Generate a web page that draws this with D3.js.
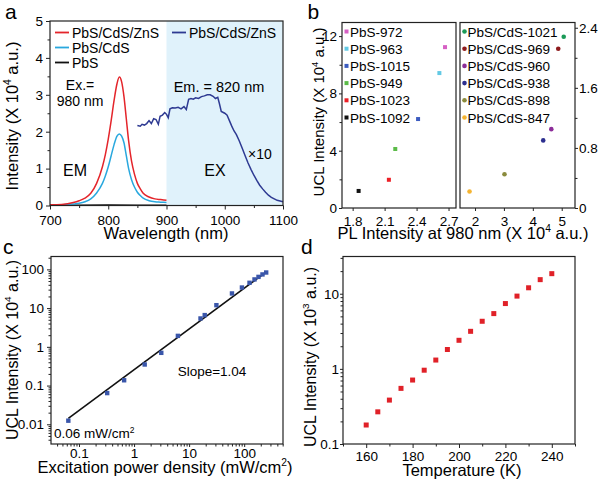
<!DOCTYPE html>
<html><head><meta charset="utf-8">
<script src="https://cdn.jsdelivr.net/npm/d3@7"></script>
<style>
body{margin:0;background:#fff}
svg text{font-family:"Liberation Sans",Arial,Helvetica,sans-serif;fill:#000}
</style></head><body>
<script>
// ---- panel a : emission / excitation spectra
var emWave = [700, 720, 740, 750, 760, 770, 780, 790, 795, 800, 805, 810, 815, 819, 823, 827, 831, 835, 840, 845, 850, 855, 860, 870, 880, 890, 900];
var emRed  = [0.02, 0.03, 0.08, 0.13, 0.2, 0.33, 0.6, 1.05, 1.38, 1.8, 2.3, 2.85, 3.3, 3.48, 3.35, 2.95, 2.35, 1.75, 1.2, 0.85, 0.6, 0.45, 0.33, 0.23, 0.18, 0.16, 0.14];
var emCyan = [0.01, 0.02, 0.04, 0.06, 0.1, 0.18, 0.34, 0.6, 0.8, 1.05, 1.35, 1.65, 1.88, 1.94, 1.88, 1.7, 1.35, 1.0, 0.7, 0.5, 0.36, 0.27, 0.2, 0.13, 0.1, 0.09, 0.08];
var pbsWave = [700, 750, 800, 850, 900];
var pbsVal  = [0.01, 0.01, 0.015, 0.01, 0.01];
var exWave = [850, 855, 858, 862, 866, 870, 874, 878, 882, 886, 889, 893, 897, 900, 903, 906, 910, 915, 920, 925, 930, 934, 938, 942, 946, 950, 955, 960, 965, 970, 975, 980, 984, 988, 991, 994, 1000, 1004, 1008, 1012, 1016, 1020, 1025, 1030, 1035, 1040, 1045, 1050, 1055, 1060, 1065, 1070, 1075, 1080, 1085, 1090, 1095, 1100];
var exVal  = [2.17, 2.15, 2.2, 2.18, 2.22, 2.3, 2.22, 2.35, 2.33, 2.2, 2.42, 2.45, 2.52, 2.47, 2.38, 2.62, 2.65, 2.64, 2.66, 2.62, 2.68, 2.6, 2.88, 2.9, 2.88, 2.92, 2.9, 2.95, 2.97, 3.0, 3.0, 2.96, 2.9, 2.93, 2.75, 2.55, 2.5, 2.45, 2.3, 2.15, 2.02, 1.92, 1.75, 1.55, 1.35, 1.15, 0.98, 0.82, 0.68, 0.55, 0.45, 0.36, 0.28, 0.22, 0.18, 0.14, 0.12, 0.1];

// ---- panel b : UCL vs PL
var pbsNames  = ["PbS-972", "PbS-963", "PbS-1015", "PbS-949", "PbS-1023", "PbS-1092"];
var pbsPL     = [2.667, 2.614, 2.414, 2.20, 2.14, 1.856];
var pbsUCL    = [11.23, 9.42, 6.21, 4.12, 1.97, 1.19];
var pbsColors = ["#d660c4", "#62c9e4", "#3c5cc0", "#5bbb48", "#ec1f26", "#111111"];
var cdsNames  = ["PbS/CdS-1021", "PbS/CdS-969", "PbS/CdS-960", "PbS/CdS-938", "PbS/CdS-898", "PbS/CdS-847"];
var cdsPL     = [5.07, 4.88, 4.64, 4.36, 3.02, 1.81];
var cdsUCL    = [2.28, 2.12, 1.05, 0.90, 0.45, 0.22];
var cdsColors = ["#1a9a57", "#8e1b1d", "#8c2d99", "#2c2f8f", "#8a8b3c", "#f5b431"];

// ---- panel c : power dependence
var powerX = [0.064, 0.325, 0.66, 1.56, 3.12, 6.25, 16.1, 19.2, 31.3, 60, 91, 125, 154, 182, 215, 251];
var powerY = [0.0124, 0.064, 0.137, 0.35, 0.70, 1.92, 5.4, 6.6, 11.9, 23.9, 34, 45, 55, 64, 74, 83];
var fitX = [0.064, 250];
var fitY = [0.0143, 85];

// ---- panel d : temperature dependence
var tempK = [160, 165, 170, 175, 180, 185, 190, 195, 200, 205, 210, 215, 220, 225, 230, 235, 240];
var tempUCL = [0.179, 0.268, 0.384, 0.55, 0.71, 0.96, 1.31, 1.81, 2.4, 3.16, 4.3, 5.44, 7.4, 9.3, 12.0, 15.4, 18.5];

var svg = d3.select("body").append("svg").attr("width", 600).attr("height", 486);

function frame(x0, x1, y0, y1) {
  svg.append("rect").attr("x", x0).attr("y", y0).attr("width", x1 - x0).attr("height", y1 - y0)
    .attr("fill", "none").attr("stroke", "#222").attr("stroke-width", 1.2);
}

function axis(orient, scale, pos, major, minor, fmt, size, pad) {
  var mk = orient == "bottom" ? d3.axisBottom : orient == "left" ? d3.axisLeft : d3.axisRight;
  var tr = orient == "bottom" ? "translate(0," + pos + ")" : "translate(" + pos + ",0)";
  if (minor && minor.length) {
    var gm = svg.append("g").attr("transform", tr).call(mk(scale).tickValues(minor).tickSize(2.5).tickFormat(""));
    gm.select(".domain").remove();
    gm.selectAll("line").attr("stroke", "#222");
  }
  var g = svg.append("g").attr("transform", tr)
    .call(mk(scale).tickValues(major).tickSize(size).tickPadding(pad).tickFormat(fmt));
  g.select(".domain").remove();
  g.selectAll("line").attr("stroke", "#222");
  g.selectAll("text").attr("font-size", 13.5).attr("font-family", "Liberation Sans, Arial, sans-serif");
  return g;
}

function label(x, y, s, size, anchor) {
  return svg.append("text").attr("x", x).attr("y", y).attr("font-size", size)
    .attr("text-anchor", anchor || "start").text(s);
}

// text with superscripts: parts = [[text, isSup], ...]
function rich(parts, size, x, y, rot) {
  var t = svg.append("text").attr("font-size", size).attr("text-anchor", "middle")
    .attr("transform", "translate(" + x + "," + y + ")" + (rot ? " rotate(-90)" : ""));
  parts.forEach(function (p, i) {
    var prevSup = i > 0 && parts[i - 1][1];
    t.append("tspan").text(p[0]).attr("font-size", p[1] ? size * 0.62 : size)
      .attr("dy", p[1] ? -size * 0.4 : (prevSup ? size * 0.4 : 0));
  });
  return t;
}

function letter(x, y, s) { label(x, y, s, 21); }

// ================= panel a
var ax = d3.scaleLinear().domain([700, 1100]).range([50, 283]);
var ay = d3.scaleLinear().domain([0, 5]).range([205.5, 21]);
svg.append("rect").attr("x", ax(900)).attr("y", ay(5)).attr("width", ax(1100) - ax(900))
  .attr("height", ay(0) - ay(5)).attr("fill", "#e0f2fb");

function spec(xs, ys, color, curve) {
  svg.append("path").datum(xs.map(function (w, i) { return [w, ys[i]]; }))
    .attr("fill", "none").attr("stroke", color).attr("stroke-width", 1.5)
    .attr("d", d3.line().x(function (d) { return ax(d[0]); }).y(function (d) { return ay(d[1]); }).curve(curve));
}
spec(pbsWave, pbsVal, "#111", d3.curveLinear);
spec(emWave, emCyan, "#29a8de", d3.curveMonotoneX);
spec(emWave, emRed, "#e4252b", d3.curveMonotoneX);
spec(exWave, exVal, "#2e3a92", d3.curveLinear);

frame(50, 283, 21, 205.5);
axis("bottom", ax, 205.5, [700, 800, 900, 1000, 1100], [750, 850, 950, 1050], d3.format("d"), 4, 6);
axis("left", ay, 50, [0, 1, 2, 3, 4, 5], [0.5, 1.5, 2.5, 3.5, 4.5], d3.format("d"), 4, 3);

var legA = [["PbS/CdS/ZnS", "#e4252b", 55, 32.5], ["PbS/CdS", "#29a8de", 55, 47.5], ["PbS", "#111", 55, 62.5], ["PbS/CdS/ZnS", "#2e3a92", 172, 32.5]];
legA.forEach(function (l) {
  svg.append("line").attr("x1", l[2]).attr("x2", l[2] + 14).attr("y1", l[3]).attr("y2", l[3])
    .attr("stroke", l[1]).attr("stroke-width", 1.8);
  label(l[2] + 17, l[3] + 5, l[0], 14);
});
label(80, 90, "Ex.=", 14, "middle");
label(80, 106, "980 nm", 14, "middle");
label(219, 92, "Em. = 820 nm", 14.5, "middle");
label(75, 176, "EM", 16, "middle");
label(215, 176, "EX", 16, "middle");
label(248, 159, "\u00d710", 14);
rich([["Wavelength (nm)", false]], 16.5, 166, 239, false);
rich([["Intensity (X 10", false], ["4", true], [" a.u.)", false]], 16.5, 17.5, 116, true);
letter(5, 18.5, "a");

// ================= panel b
var bxL = d3.scaleLinear().domain([1.7, 2.77]).range([342, 456]);
var byL = d3.scaleLinear().domain([0, 12.95]).range([208, 22.5]);
var bxR = d3.scaleLinear().domain([1.48, 5.46]).range([460, 575]);
var byR = d3.scaleLinear().domain([0, 2.47]).range([208, 22.5]);
frame(342, 456, 22.5, 208);
frame(460, 575, 22.5, 208);
axis("bottom", bxL, 208, [1.8, 2.1, 2.4, 2.7], [], d3.format(".1f"), 3, 5);
axis("left", byL, 342, [0, 4, 8, 12], [2, 6, 10], d3.format("d"), 3, 2);
axis("bottom", bxR, 208, [2, 3, 4, 5], [], d3.format("d"), 3, 5);
axis("right", byR, 575, [0, 0.8, 1.6, 2.4], [0.4, 1.2, 2.0], function (d) { return d === 0 ? "0" : d3.format(".1f")(d); }, 3, 1);

pbsNames.forEach(function (n, i) {
  svg.append("rect").attr("x", bxL(pbsPL[i]) - 2).attr("y", byL(pbsUCL[i]) - 2).attr("width", 4).attr("height", 4).attr("fill", pbsColors[i]);
  var yy = 31.5 + i * 17.2;
  svg.append("rect").attr("x", 344.5).attr("y", yy - 2).attr("width", 4).attr("height", 4).attr("fill", pbsColors[i]);
  label(350, yy + 5, n, 13.5);
});
cdsNames.forEach(function (n, i) {
  svg.append("circle").attr("cx", bxR(cdsPL[i])).attr("cy", byR(cdsUCL[i])).attr("r", 2.3).attr("fill", cdsColors[i]);
  var yy = 31.5 + i * 17.2;
  svg.append("circle").attr("cx", 464.5).attr("cy", yy).attr("r", 2.3).attr("fill", cdsColors[i]);
  label(467.5, yy + 5, n, 13.5);
});
rich([["PL Intensity at 980 nm (X 10", false], ["4", true], [" a.u.)", false]], 16.5, 463, 238.5, false);
rich([["UCL Intensity (X 10", false], ["4", true], [" a.u.)", false]], 15, 323.5, 112, true);
letter(307.5, 18.5, "b");

// ================= panel c
var cx = d3.scaleLog().domain([0.031, 507]).range([51, 283]);
var cy = d3.scaleLog().domain([0.0031, 215]).range([444, 256.5]);
frame(51, 283, 256.5, 444);
var cxMaj = [0.1, 1, 10, 100], cyMaj = [0.01, 0.1, 1, 10, 100];
var cxLab = ["0.1", "1", "10", "100"], cyLab = ["0.01", "0.1", "1", "10", "100"];
axis("bottom", cx, 444, cxMaj, cx.ticks().filter(function (t) { return cxMaj.indexOf(t) < 0; }),
  function (d, i) { return cxLab[i]; }, 3, 1.5);
axis("left", cy, 51, cyMaj, cy.ticks().filter(function (t) { return cyMaj.indexOf(t) < 0; }),
  function (d, i) { return cyLab[i]; }, 4, 3);
svg.append("line").attr("x1", cx(fitX[0])).attr("y1", cy(fitY[0])).attr("x2", cx(fitX[1])).attr("y2", cy(fitY[1]))
  .attr("stroke", "#111").attr("stroke-width", 1.6);
powerX.forEach(function (p, i) {
  svg.append("rect").attr("x", cx(p) - 2.2).attr("y", cy(powerY[i]) - 2.2).attr("width", 4.4).attr("height", 4.4).attr("fill", "#3a56aa");
});
label(212, 376, "Slope=1.04", 13.5, "middle");
var t06 = svg.append("text").attr("x", 54).attr("y", 438).attr("font-size", 13.5);
t06.append("tspan").text("0.06 mW/cm");
t06.append("tspan").text("2").attr("font-size", 8.5).attr("dy", -5.5);
rich([["Excitation power density (mW/cm", false], ["2", true], [")", false]], 16.5, 165, 473, false);
rich([["UCL Intensity (X 10", false], ["4", true], [" a.u.)", false]], 16, 17.5, 350, true);
letter(3, 254, "c");

// ================= panel d
var dx = d3.scaleLinear().domain([150, 250]).range([343, 575]);
var dy = d3.scaleLog().domain([0.1, 31.3]).range([444, 256.5]);
frame(343, 575, 256.5, 444);
var dyMaj = [0.1, 1, 10], dyLab = ["0.1", "1", "10"];
axis("bottom", dx, 444, [160, 180, 200, 220, 240], [150, 170, 190, 210, 230, 250], d3.format("d"), 4, 3);
axis("left", dy, 343, dyMaj, dy.ticks().filter(function (t) { return dyMaj.indexOf(t) < 0; }),
  function (d, i) { return dyLab[i]; }, 3, 1);
tempK.forEach(function (k, i) {
  svg.append("rect").attr("x", dx(k) - 2.5).attr("y", dy(tempUCL[i]) - 2.5).attr("width", 5).attr("height", 5).attr("fill", "#e02128");
});
rich([["Temperature (K)", false]], 16.5, 462, 476, false);
rich([["UCL Intensity (X 10", false], ["3", true], [" a.u.)", false]], 16, 315.5, 357, true);
letter(301, 253.5, "d");
</script>
</body></html>
